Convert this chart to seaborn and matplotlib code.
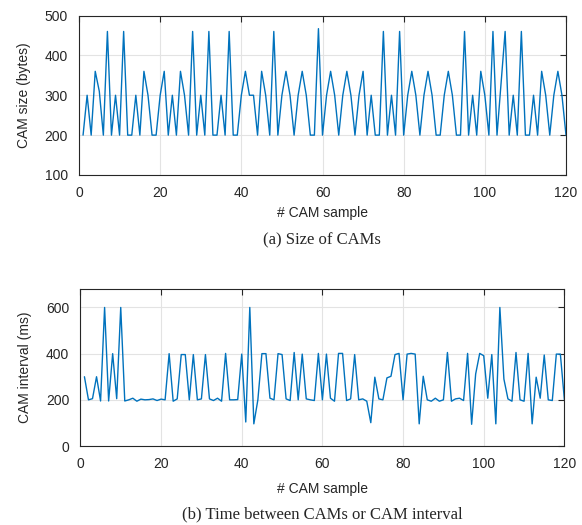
import numpy as np
import matplotlib
matplotlib.use("Agg")
import matplotlib.pyplot as plt
import seaborn as sns

# CAM size per sample (bytes), samples 1..120
cam_size = [
    200, 300, 200, 360, 310, 200, 460, 200, 300, 200,
    460, 200, 200, 300, 200, 360, 300, 200, 200, 300,
    360, 200, 300, 200, 360, 300, 200, 460, 200, 300,
    200, 460, 200, 200, 300, 200, 460, 200, 200, 300,
    360, 300, 300, 200, 360, 300, 200, 460, 200, 300,
    360, 300, 200, 300, 360, 300, 200, 200, 467, 200,
    300, 360, 300, 200, 300, 360, 300, 200, 300, 360,
    200, 300, 200, 200, 460, 200, 300, 200, 460, 200,
    300, 360, 300, 200, 300, 360, 300, 200, 200, 300,
    360, 300, 200, 200, 460, 200, 300, 200, 360, 300,
    200, 460, 200, 330, 460, 200, 300, 200, 460, 200,
    200, 300, 200, 360, 300, 200, 300, 360, 300, 200,
]

# time between CAMs (ms), samples 1..120
cam_interval = [
    300, 200, 205, 300, 195, 600, 195, 400, 205, 600,
    195, 200, 207, 194, 203, 200, 201, 204, 197, 203,
    200, 400, 194, 204, 396, 396, 200, 396, 200, 204,
    396, 204, 197, 207, 194, 401, 200, 200, 201, 398,
    104, 600, 96, 200, 400, 400, 207, 200, 400, 396,
    204, 197, 405, 200, 398, 204, 200, 197, 401, 200,
    398, 207, 194, 401, 401, 197, 204, 396, 200, 204,
    194, 101, 298, 204, 200, 295, 302, 396, 401, 200,
    398, 401, 398, 96, 302, 200, 194, 207, 194, 200,
    405, 194, 204, 207, 197, 401, 94, 312, 401, 391,
    207, 396, 96, 600, 290, 204, 194, 405, 200, 194,
    401, 96, 298, 207, 394, 200, 197, 398, 398, 200,
]

samples = np.arange(1, len(cam_size) + 1)

sns.set_style("whitegrid")
plt.rcParams['font.family'] = ['Liberation Sans', 'DejaVu Sans']

fig = plt.figure(figsize=(5.82, 5.25), dpi=100)
ax1 = fig.add_axes([79 / 582, 1 - 175 / 525, 487 / 582, 159.5 / 525])
ax2 = fig.add_axes([80.4 / 582, 1 - 446 / 525, 484 / 582, 157 / 525])

line_color = '#0072BD'
sns.lineplot(x=samples, y=cam_size, ax=ax1, color=line_color, linewidth=1.0)
sns.lineplot(x=samples, y=cam_interval, ax=ax2, color=line_color, linewidth=1.0)

ax1.set_xlim(0, 120)
ax1.set_ylim(100, 500)
ax1.set_xticks(range(0, 121, 20))
ax1.set_yticks(range(100, 501, 100))
ax1.set_ylabel("CAM size (bytes)", fontsize=10, labelpad=10)
ax1.set_xlabel("# CAM sample", fontsize=10, labelpad=4)

ax2.set_xlim(0, 120)
ax2.set_ylim(0, 680)
ax2.set_xticks(range(0, 121, 20))
ax2.set_yticks(range(0, 601, 200))
ax2.set_ylabel("CAM interval (ms)", fontsize=10, labelpad=10)
ax2.set_xlabel("# CAM sample", fontsize=10, labelpad=8)

for ax in (ax1, ax2):
    ax.grid(True, color='#e3e3e3', linewidth=0.8)
    ax.tick_params(direction='in', top=True, right=True, length=4,
                   width=0.8, color='#262626', labelsize=10, labelcolor='#262626')
    ax.tick_params(axis='x', pad=8)
    ax.tick_params(axis='y', pad=8)
    for sp in ax.spines.values():
        sp.set_color('#262626')
        sp.set_linewidth(0.8)

fig.text(322 / 582, 1 - 240 / 525, "(a) Size of CAMs", ha='center', va='center',
         fontsize=12, family='Liberation Serif')
fig.text(322 / 582, 1 - 514 / 525, "(b) Time between CAMs or CAM interval", ha='center',
         va='center', fontsize=12, family='Liberation Serif')

fig.savefig("out.png", dpi=100)
